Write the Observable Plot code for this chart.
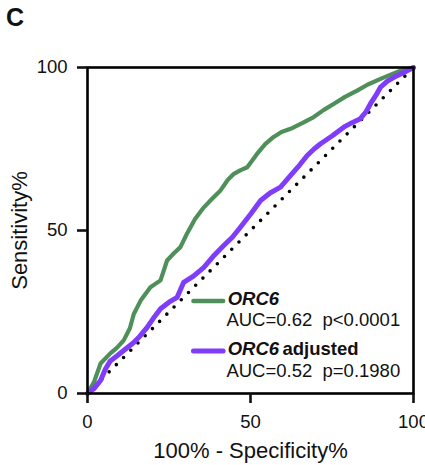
<!DOCTYPE html>
<html>
<head>
<meta charset="utf-8">
<script src="https://cdn.jsdelivr.net/npm/d3@7"></script>
<script src="https://cdn.jsdelivr.net/npm/@observablehq/plot@0.6"></script>
<style>
  html, body { margin: 0; padding: 0; background: #fff; }
  #chart { position: relative; width: 425px; height: 465px; }
  #panel { position: absolute; left: 6px; top: 3px; font: bold 25px "Liberation Sans", Arial, sans-serif; color: #111; }
</style>
</head>
<body>
<div id="chart"><div id="panel">C</div></div>
<script>
// ROC curve for ORC6 (100% - Specificity%, Sensitivity%)
const orc6X = [0, 2, 4, 7, 9, 11.1, 13, 14.2, 16.3, 19.3, 22.4, 24.4, 26.5, 28.5, 30.5, 33, 35.7, 38, 40.8, 43, 44.9, 47, 49, 52, 54.5, 57.1, 59.5, 62.3, 66, 69.4, 72.5, 75.6, 79, 82.7, 86, 89.9, 93, 96, 100];
const orc6Y = [0, 3.5, 9.2, 12.3, 14, 16.3, 20, 24.4, 28.5, 32.6, 34.7, 40.8, 43, 44.9, 49, 53.5, 57.1, 59.5, 62.3, 65.5, 67.4, 68.5, 69.4, 73.5, 76.5, 78.7, 80.2, 81.2, 83, 84.8, 87, 88.9, 91, 92.9, 94.8, 96.5, 97.8, 99, 100];
// ROC curve for ORC6 adjusted
const adjX = [0, 2, 4, 5.5, 7, 9, 11.1, 14, 16, 18.3, 20.5, 22.4, 25, 27.5, 29.5, 32.5, 35.7, 38.5, 41.8, 44.5, 46.9, 50, 53.1, 56, 59.2, 62.3, 65, 67.4, 69.5, 71.5, 75, 78.6, 81, 83.7, 85.5, 86.8, 88.5, 89.9, 92, 94, 97, 100];
const adjY = [0, 1.5, 4, 7.5, 10, 11.5, 13.2, 15.5, 17.5, 20.3, 23.5, 26, 28, 29.5, 34.1, 36, 38.7, 42, 45.4, 48, 51, 55, 59.2, 61.5, 63.3, 66.9, 70, 73, 75, 76.6, 79, 81.7, 83, 84.3, 86.5, 88.9, 91.5, 94, 95.8, 97, 98.5, 100];
const diagonal = [0, 100];
const xTicks = [0, 50, 100];
const yTicks = [0, 50, 100];
const legendLabels = ["ORC6", "adjusted", "AUC=0.62\u00a0\u00a0p<0.0001", "AUC=0.52\u00a0\u00a0p=0.1980"];

const green = "#4f8f5a";
const purple = "#7f3dfb";
const font = "'Liberation Sans', Arial, sans-serif";

const orc6 = orc6X.map((x, i) => ({x, y: orc6Y[i]}));
const adj = adjX.map((x, i) => ({x, y: adjY[i]}));
const diag = diagonal.map(v => ({x: v, y: v}));

const plot = Plot.plot({
  width: 425,
  height: 465,
  marginLeft: 87,
  marginRight: 12,
  marginTop: 67,
  marginBottom: 72,
  style: {fontFamily: font, color: "#111", background: "transparent"},
  x: {domain: [0, 100]},
  y: {domain: [0, 100]},
  marks: [
    Plot.line(diag, {x: "x", y: "y", stroke: "#000", strokeWidth: 3.6, strokeDasharray: "0 10.2", strokeLinecap: "round"}),
    Plot.line(orc6, {x: "x", y: "y", stroke: green, strokeWidth: 4.2, strokeLinejoin: "round", strokeLinecap: "round"}),
    Plot.line(adj, {x: "x", y: "y", stroke: purple, strokeWidth: 5, strokeLinejoin: "round", strokeLinecap: "round"}),
    Plot.frame({stroke: "#000", strokeWidth: 2.6}),
    Plot.axisX({ticks: xTicks, tickSize: 10, tickPadding: 11, strokeWidth: 2.6, fontSize: 18.5, label: null, tickFormat: d => String(d)}),
    Plot.axisY({ticks: yTicks, tickSize: 10, tickPadding: 10, strokeWidth: 2.6, fontSize: 18.5, label: null, tickFormat: d => String(d)}),
    // legend swatches
    Plot.line([{x: 32.5, y: 28.4}, {x: 41.6, y: 28.4}], {x: "x", y: "y", stroke: green, strokeWidth: 4.5, strokeLinecap: "round"}),
    Plot.line([{x: 32.5, y: 13.0}, {x: 41.6, y: 13.0}], {x: "x", y: "y", stroke: purple, strokeWidth: 5, strokeLinecap: "round"}),
    // legend text
    Plot.text([legendLabels[0]], {x: 43.0, y: 29.0, text: d => d, textAnchor: "start", fontSize: 18.5, fontWeight: "bold", fontStyle: "italic", fill: "#111"}),
    Plot.text([legendLabels[2]], {x: 42.6, y: 22.4, text: d => d, textAnchor: "start", fontSize: 18.5, fill: "#111"}),
    Plot.text([legendLabels[0]], {x: 43.0, y: 13.7, text: d => d, textAnchor: "start", fontSize: 18.5, fontWeight: "bold", fontStyle: "italic", fill: "#111"}),
    Plot.text([legendLabels[1]], {x: 59.8, y: 13.7, text: d => d, textAnchor: "start", fontSize: 18.5, fontWeight: "bold", fill: "#111"}),
    Plot.text([legendLabels[3]], {x: 42.6, y: 7.0, text: d => d, textAnchor: "start", fontSize: 18.5, fill: "#111"}),
    // axis titles
    Plot.text(["100% - Specificity%"], {x: 50, frameAnchor: "bottom", dy: 57, textAnchor: "middle", lineAnchor: "middle", text: d => d, fontSize: 22, fill: "#111", style: "letter-spacing:0.9px"}),
    Plot.text(["Sensitivity%"], {y: 50, frameAnchor: "left", dx: -68, rotate: -90, textAnchor: "middle", lineAnchor: "middle", text: d => d, fontSize: 22, fill: "#111", style: "letter-spacing:0.5px"})
  ]
});
document.getElementById("chart").appendChild(plot);
</script>
</body>
</html>
